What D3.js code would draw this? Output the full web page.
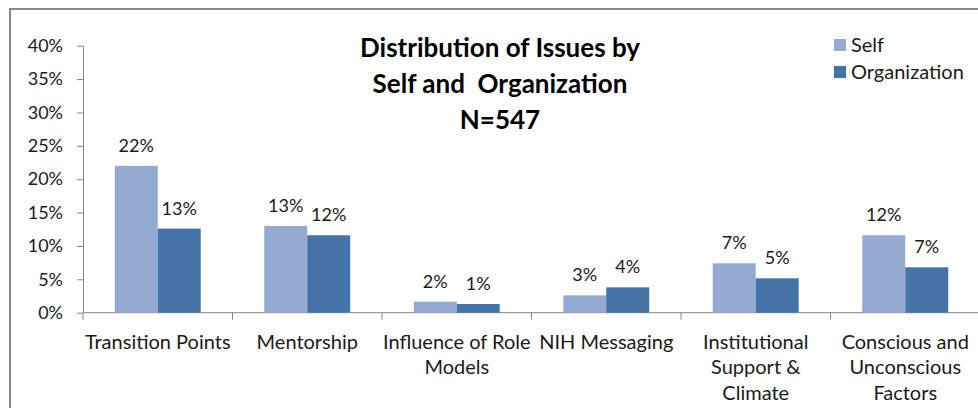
<!DOCTYPE html>
<html>
<head>
<meta charset="utf-8">
<script src="https://cdn.jsdelivr.net/npm/d3@7"></script>
<style>
  body { margin: 0; background: #fff; }
  text { font-family: Lato, "Open Sans", sans-serif; fill: #1a1a1a; }
</style>
</head>
<body>
<div id="chart"></div>
<script>
// categories and values
var categories = ["Transition Points", "Mentorship", "Influence of Role\nModels", "NIH Messaging",
                  "Institutional\nSupport &\nClimate", "Conscious and\nUnconscious\nFactors"];
var series = ["Self", "Organization"];
var selfValues = [0.22, 0.13, 0.0165, 0.026, 0.074, 0.116];
var orgValues = [0.126, 0.116, 0.013, 0.038, 0.0515, 0.068];
var yTicks = [0, 0.05, 0.10, 0.15, 0.20, 0.25, 0.30, 0.35, 0.40];
var titleLines = ["Distribution of Issues by", "Self and  Organization", "N=547"];

var w = 978, h = 408;
var colors = {"Self": "#94aad1", "Organization": "#4473a7"};

var svg = d3.select("#chart").append("svg")
    .attr("width", w)
    .attr("height", h);

// chart frame (runs off the right and bottom of the picture)
svg.append("rect")
    .attr("x", 10).attr("y", 9)
    .attr("width", 1000).attr("height", 500)
    .style("fill", "white")
    .style("stroke", "#8a8a8a")
    .style("stroke-width", 2);

var x0 = d3.scaleBand()
    .domain(categories)
    .range([83, 980])
    .padding(0);

var x1 = d3.scaleBand()
    .domain(series)
    .range([0, x0.bandwidth()])
    .paddingInner(0)
    .paddingOuter(0.74);

var y = d3.scaleLinear()
    .domain([0, 0.4])
    .range([312.7, 45.7]);

var rows = categories.map(function(c, i) {
    return {cat: c, vals: [{key: "Self", v: selfValues[i]}, {key: "Organization", v: orgValues[i]}]};
});

// y axis
var yAxis = d3.axisLeft(y)
    .tickValues(yTicks)
    .tickFormat(d3.format(".0%"))
    .tickSize(6)
    .tickSizeOuter(0)
    .tickPadding(14);

var gy = svg.append("g")
    .attr("transform", "translate(83,0)")
    .call(yAxis);
gy.selectAll("path, line").style("stroke", "#868686");
gy.selectAll("text").style("font-size", "18px").style("fill", "#1a1a1a")
    .style("font-family", "Lato, sans-serif");

// x axis line + boundary ticks
var bounds = categories.map(function(c) { return x0(c); }).concat([x0.range()[1]]);
svg.append("line")
    .attr("x1", 83).attr("x2", 980)
    .attr("y1", y(0)).attr("y2", y(0))
    .style("stroke", "#868686");
svg.selectAll(".xtick")
    .data(bounds)
    .enter().append("line")
    .attr("class", "xtick")
    .attr("x1", function(d) { return d; })
    .attr("x2", function(d) { return d; })
    .attr("y1", y(0))
    .attr("y2", y(0) + 7)
    .style("stroke", "#868686");

// bars
var groups = svg.selectAll(".grp")
    .data(rows)
    .enter().append("g")
    .attr("class", "grp")
    .attr("transform", function(d) { return "translate(" + x0(d.cat) + ",0)"; });

groups.selectAll("rect")
    .data(function(d) { return d.vals; })
    .enter().append("rect")
    .attr("x", function(d) { return x1(d.key); })
    .attr("y", function(d) { return y(d.v); })
    .attr("width", x1.bandwidth())
    .attr("height", function(d) { return y(0) - y(d.v); })
    .style("fill", function(d) { return colors[d.key]; });

// data labels
groups.selectAll(".lbl")
    .data(function(d) { return d.vals; })
    .enter().append("text")
    .attr("class", "lbl")
    .attr("x", function(d) { return x1(d.key) + x1.bandwidth() / 2; })
    .attr("y", function(d) { return y(d.v) - 14; })
    .style("text-anchor", "middle")
    .style("font-size", "18px")
    .text(function(d) { return d3.format(".0%")(d.v); });

// category labels (multi-line)
var cl = svg.selectAll(".cat")
    .data(categories)
    .enter().append("text")
    .attr("class", "cat")
    .attr("x", function(d) { return x0(d) + x0.bandwidth() / 2; })
    .attr("y", 348.5)
    .style("text-anchor", "middle")
    .style("font-size", "20px");
cl.selectAll("tspan")
    .data(function(d) { return d.split("\n"); })
    .enter().append("tspan")
    .attr("x", function() { return d3.select(this.parentNode).attr("x"); })
    .attr("dy", function(d, i) { return i == 0 ? 0 : 25.7; })
    .text(function(d) { return d; });

// title
svg.selectAll(".title")
    .data(titleLines)
    .enter().append("text")
    .attr("class", "title")
    .attr("x", 500)
    .attr("y", function(d, i) { return 57 + i * 36; })
    .style("text-anchor", "middle")
    .style("font-size", "26px")
    .style("font-weight", "bold")
    .style("fill", "#000")
    .style("white-space", "pre")
    .text(function(d) { return d; });

// legend
var legend = svg.selectAll(".legend")
    .data(series)
    .enter().append("g")
    .attr("class", "legend")
    .attr("transform", function(d, i) { return "translate(834," + (39 + i * 27) + ")"; });

legend.append("rect")
    .attr("width", 12)
    .attr("height", 12)
    .style("fill", function(d) { return colors[d]; });

legend.append("text")
    .attr("x", 17)
    .attr("y", 6)
    .attr("dy", ".35em")
    .style("font-size", "20px")
    .text(function(d) { return d; });
</script>
</body>
</html>
